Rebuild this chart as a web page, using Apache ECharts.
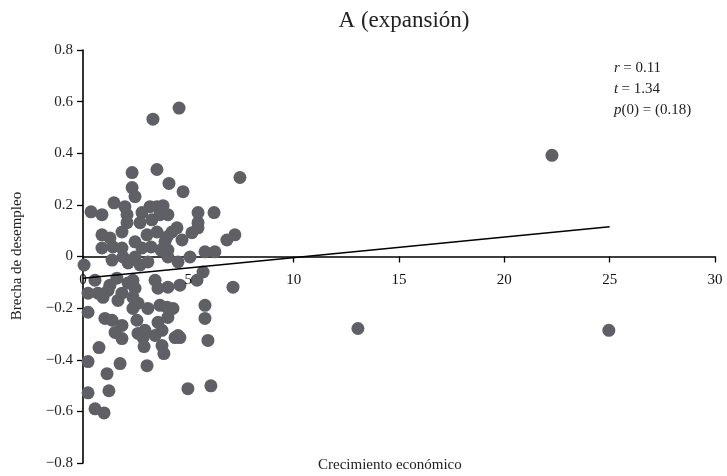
<!DOCTYPE html>
<html><head><meta charset="utf-8">
<script src="https://cdn.jsdelivr.net/npm/echarts@6/dist/echarts.min.js"></script>
<style>html,body{margin:0;padding:0;background:#fff}#c{width:727px;height:476px}</style>
</head><body><div id="c"></div>
<script>
const xTicks = [0, 5, 10, 15, 20, 25, 30];
const yTicks = [-0.8, -0.6, -0.4, -0.2, 0, 0.2, 0.4, 0.6, 0.8];
const growth = [22.26,13.05,24.96,7.45,4.56,3.32,3.51,2.33,4.08,4.75,2.33,2.47,0.38,0.90,1.47,1.99,2.09,3.18,3.51,2.80,2.09,2.71,3.27,3.65,3.80,4.03,5.46,6.22,5.46,5.46,4.22,4.46,3.99,3.89,5.17,6.83,7.21,4.70,0.90,1.28,1.85,2.47,3.04,3.51,0.90,1.42,1.85,2.80,3.23,3.70,4.03,5.08,5.79,6.26,1.90,0.05,1.38,2.14,2.47,0.57,1.61,1.28,2.14,2.37,3.42,0.24,0.71,1.19,1.85,2.47,3.56,0.24,0.95,1.66,2.37,2.37,2.61,3.08,3.65,1.04,1.38,1.85,2.56,2.94,3.56,3.42,1.52,1.85,4.03,5.70,5.41,4.60,4.03,7.12,3.99,4.27,4.03,5.79,5.79,3.75,4.51,5.93,0.76,2.61,2.85,2.90,3.75,3.84,0.24,1.76,3.04,1.14,0.24,1.23,0.57,1.00,4.37,4.60,4.98,6.07,3.08,2.71,4.51];
const gap = [0.392,-0.279,-0.286,0.306,0.575,0.532,0.337,0.325,0.283,0.251,0.267,0.232,0.173,0.162,0.208,0.193,0.162,0.193,0.193,0.170,0.131,0.131,0.142,0.162,0.197,0.162,0.170,0.170,0.131,0.111,0.095,0.111,0.076,0.057,0.092,0.064,0.084,0.064,0.084,0.072,0.095,0.057,0.084,0.095,0.033,0.037,0.033,0.033,0.037,0.025,0.025,-0.002,0.018,0.018,-0.002,-0.033,-0.014,-0.025,-0.002,-0.092,-0.084,-0.111,-0.103,-0.092,-0.092,-0.142,-0.142,-0.131,-0.142,-0.123,-0.123,-0.216,-0.158,-0.170,-0.158,-0.201,-0.181,-0.201,-0.189,-0.240,-0.247,-0.267,-0.247,-0.286,-0.255,-0.306,-0.294,-0.318,-0.002,-0.060,-0.092,-0.111,-0.119,-0.119,-0.197,-0.201,-0.236,-0.189,-0.240,-0.286,-0.306,-0.325,-0.353,-0.298,-0.314,-0.349,-0.345,-0.376,-0.407,-0.415,-0.423,-0.454,-0.528,-0.520,-0.590,-0.606,-0.314,-0.314,-0.512,-0.501,-0.021,-0.033,-0.021];
const trendX = [0, 25];
const trendY = [-0.084, 0.115];

const F = '"Liberation Serif", "DejaVu Serif", serif';
const chart = echarts.init(document.getElementById('c'), null, {renderer: 'canvas'});
chart.setOption({
  animation: false,
  backgroundColor: '#fff',
  title: {text: 'A (expansión)', left: 399, top: 4, textAlign: 'center',
    textStyle: {fontFamily: F, fontSize: 23, fontWeight: 'normal', color: '#222'}},
  grid: {left: 83, right: 12, top: 50, bottom: 13, containLabel: false, outerBoundsMode: 'none'},
  xAxis: {type: 'value', min: xTicks[0], max: xTicks[xTicks.length-1], interval: 5,
    axisLine: {onZero: true, lineStyle: {color: '#000', width: 1.6}},
    axisTick: {show: true, inside: false, length: 6, lineStyle: {color: '#000', width: 1.3}},
    axisLabel: {show: false},
    splitLine: {show: false}},
  yAxis: {type: 'value', min: yTicks[0], max: yTicks[yTicks.length-1], interval: 0.2,
    axisLine: {show: true, lineStyle: {color: '#000', width: 1.6}},
    axisTick: {show: true, length: 6, lineStyle: {color: '#000', width: 1.3}},
    axisLabel: {fontFamily: F, fontSize: 15, color: '#222', margin: 10,
      formatter: v => { const r = Math.round(v*10)/10; return r === 0 ? '0' : (r < 0 ? '\u2212' + Math.abs(r).toFixed(1) : r.toFixed(1)); }},
    splitLine: {show: false}},
  graphic: [
    {type: 'text', left: 318, top: 458, style: {text: 'Crecimiento económico', font: '15px ' + F, fill: '#222'}},
    {type: 'text', x: 17, y: 256, rotation: Math.PI/2, style: {text: 'Brecha de desempleo', font: '15px ' + F, fill: '#222', align: 'center', verticalAlign: 'middle'}},
    {type: 'text', left: 614, top: 58, style: {
      rich: {i: {font: 'italic 15px ' + F, fill: '#222'}, n: {font: '15px ' + F, fill: '#222'}},
      text: '{i|r} {n|= 0.11}\n{i|t} {n|= 1.34}\n{i|p}{n|(0) = (0.18)}', lineHeight: 21}}
  ],
  series: [
    {type: 'scatter', data: growth.map((x, i) => [x, gap[i]]), symbolSize: 13,
      itemStyle: {color: '#5f6065', opacity: 1}, z: 2},
    {type: 'line', data: trendX.map((x, i) => [x, trendY[i]]), symbol: 'none',
      lineStyle: {color: '#000', width: 1.6}, z: 3},
    {type: 'scatter', data: xTicks.map(x => [x, 0]), symbolSize: 0, silent: true, z: 5,
      itemStyle: {color: '#000', opacity: 1},
      label: {show: true, position: 'bottom', distance: 16, formatter: p => String(p.value[0]),
        fontFamily: F, fontSize: 15, color: '#111', opacity: 1, textBorderWidth: 0}}
  ]
});
</script></body></html>
